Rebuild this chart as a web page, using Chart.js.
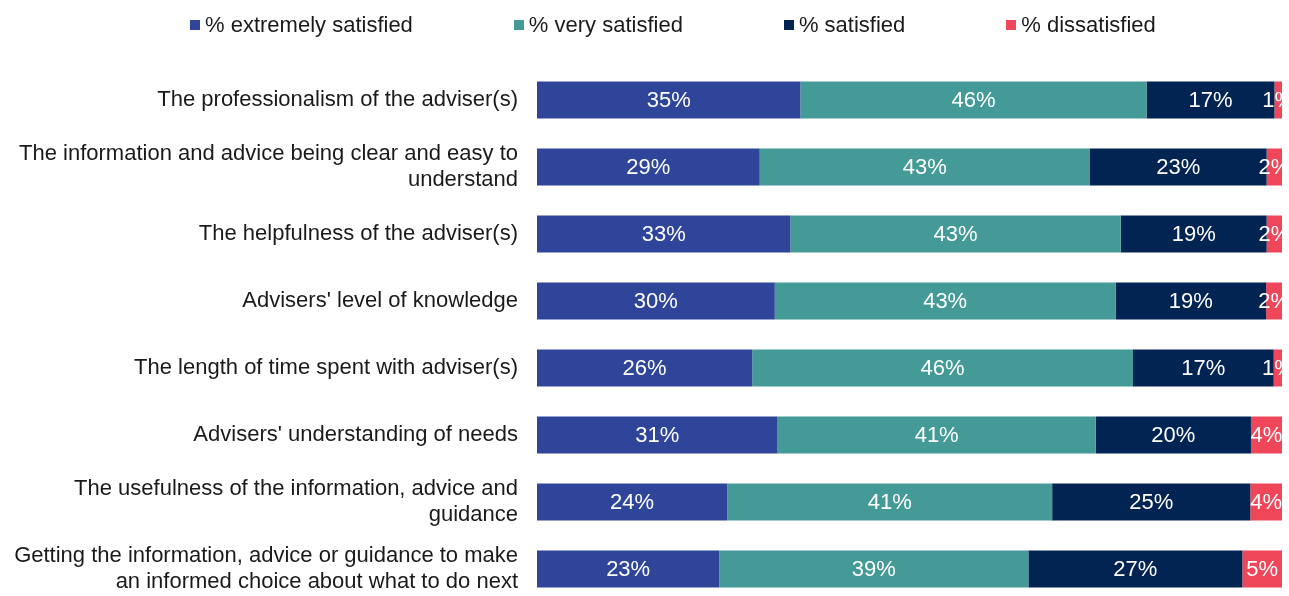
<!DOCTYPE html>
<html>
<head>
<meta charset="utf-8">
<script src="https://cdn.jsdelivr.net/npm/chart.js@4.4.1/dist/chart.umd.min.js"></script>
<style>
    html, body { margin: 0; padding: 0; background: #fff; overflow: hidden; }
    #chart { position: absolute; left: 0; top: 0; }
    #legend { position: absolute; left: 190px; top: 12px; display: flex; gap: 101px; font: 22px "Liberation Sans", Arial, sans-serif; color: #1a1a1a; }
    .item { display: flex; align-items: center; }
    .box { width: 10px; height: 10px; margin-right: 5px; }
</style>
</head>
<body>
<canvas id="chart" width="1289" height="604"></canvas>
<div id="legend"></div>
<script>
const categories = [
    "The professionalism of the adviser(s)",
    ["The information and advice being clear and easy to", "understand"],
    "The helpfulness of the adviser(s)",
    "Advisers' level of knowledge",
    "The length of time spent with adviser(s)",
    "Advisers' understanding of needs",
    ["The usefulness of the information, advice and", "guidance"],
    ["Getting the information, advice or guidance to make", "an informed choice about what to do next"]
];
const seriesNames = ["% extremely satisfied", "% very satisfied", "% satisfied", "% dissatisfied"];
const extremelySatisfied = [35, 29, 33, 30, 26, 31, 24, 23];
const verySatisfied = [46, 43, 43, 43, 46, 41, 41, 39];
const satisfied = [17, 23, 19, 19, 17, 20, 25, 27];
const dissatisfied = [1, 2, 2, 2, 1, 4, 4, 5];
const colors = ["#2E4599", "#449A97", "#022452", "#F0465A"];

const raw = [extremelySatisfied, verySatisfied, satisfied, dissatisfied];
// 100% stacked: each row is scaled by its own total
const totals = categories.map((c, i) => raw.reduce((s, arr) => s + arr[i], 0));

// html legend
document.getElementById("legend").innerHTML = seriesNames.map((n, i) =>
    "<div class=\"item\"><span class=\"box\" style=\"background:" + colors[i] + "\"></span><span>" + n + "</span></div>"
).join("");

const barLabels = {
    id: "barLabels",
    afterDatasetsDraw(chart) {
        const ctx = chart.ctx;
        const area = chart.chartArea;
        ctx.save();
        ctx.beginPath();
        ctx.rect(area.left, area.top, area.right - area.left, area.bottom - area.top);
        ctx.clip();
        ctx.fillStyle = "#fff";
        ctx.font = "22px 'Liberation Sans', Arial, sans-serif";
        ctx.textAlign = "center";
        ctx.textBaseline = "middle";
        chart.data.datasets.forEach((ds, di) => {
            chart.getDatasetMeta(di).data.forEach((bar, i) => {
                const cx = (bar.x + bar.base) / 2;
                ctx.fillText(raw[di][i] + "%", cx, bar.y + 1);
            });
        });
        ctx.restore();
    }
};

new Chart(document.getElementById("chart"), {
    type: "bar",
    data: {
        labels: categories,
        datasets: raw.map((arr, di) => ({
            label: seriesNames[di],
            data: arr.map((v, i) => v / totals[i] * 100),
            backgroundColor: colors[di],
            borderWidth: 0,
            barPercentage: 0.55,
            categoryPercentage: 1
        }))
    },
    options: {
        indexAxis: "y",
        responsive: false,
        animation: false,
        layout: { padding: { top: 66.5, right: 7, bottom: 1.5, left: 0 } },
        plugins: { legend: { display: false }, tooltip: { enabled: false } },
        scales: {
            x: { stacked: true, min: 0, max: 100, display: false },
            y: {
                stacked: true,
                grid: { display: false, drawTicks: false },
                border: { display: false },
                afterFit: scale => {
                    scale.width = 537;
                    scale.paddingTop = 0;
                    scale.paddingBottom = 0;
                },
                ticks: {
                    color: "#1a1a1a",
                    padding: 19,
                    font: { family: "'Liberation Sans', Arial, sans-serif", size: 22, lineHeight: 1.15 }
                }
            }
        }
    },
    plugins: [barLabels]
});
</script>
</body>
</html>
